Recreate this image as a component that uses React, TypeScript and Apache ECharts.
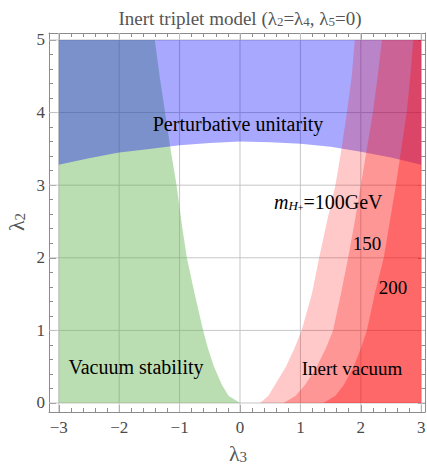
import React, { useEffect, useRef } from "react";
import * as echarts from "echarts";

// ---- data ranges & ticks ----
const X_RANGE = [-3, 3];
const Y_RANGE = [0, 5];
const xTickValues = [-3, -2, -1, 0, 1, 2, 3];
const yTickValues = [0, 1, 2, 3, 4, 5];

// ---- region boundaries ----
// Vacuum stability (green): region left of this curve
const stabilityY = [0, 0.1, 0.25, 0.5, 0.75, 1, 1.5, 2, 2.5, 3, 3.5, 4, 4.5, 5];
const stabilityX = [0, -0.19, -0.3, -0.43, -0.53, -0.61, -0.75, -0.88, -0.97, -1.05, -1.15, -1.24, -1.33, -1.41];

// Perturbative unitarity (blue): region above this curve
const unitarityX = [-3, -2.5, -2, -1.5, -1, -0.5, 0, 0.5, 1, 1.5, 2, 2.5, 3];
const unitarityY = [3.28, 3.37, 3.45, 3.5, 3.55, 3.58, 3.6, 3.59, 3.57, 3.53, 3.46, 3.38, 3.28];

// Inert vacuum (red): region right of each curve, for m_H+ = 100, 150, 200 GeV
const inertY = [0, 0.1, 0.25, 0.5, 0.75, 1, 1.5, 2, 2.5, 3, 3.5, 4, 4.5, 5];
const inert100X = [0.33, 0.47, 0.58, 0.76, 0.9, 1.02, 1.19, 1.31, 1.44, 1.58, 1.68, 1.77, 1.85, 1.9];
const inert150X = [0.72, 0.92, 1.08, 1.27, 1.42, 1.54, 1.67, 1.79, 1.9, 2.0, 2.1, 2.2, 2.28, 2.35];
const inert200X = [1.38, 1.58, 1.72, 1.88, 2.0, 2.1, 2.23, 2.38, 2.48, 2.58, 2.67, 2.76, 2.82, 2.87];

// axis extents (frame padding around the data range)
const AX_X_MIN = -3.162;
const AX_X_MAX = 3.063;
const AX_Y_MIN = -0.124;
const AX_Y_MAX = 5.096;

const SERIF = "Liberation Serif";
const FRAME = "#8c8c8c";
const LABEL = "#4a4a4a";

function minorTicks(major: number[]): number[] {
  const out: number[] = [];
  for (let i = 0; i < major.length - 1; i++) {
    const a = major[i];
    const b = major[i + 1];
    for (let k = 1; k < 5; k++) out.push(Math.round((a + ((b - a) * k) / 5) * 1e6) / 1e6);
  }
  return out;
}

const fmt = (v: number) => (v < 0 ? "\u2212" + Math.abs(v) : String(v));

function regionSeries(name: string, pts: number[][], fill: string, z: number) {
  return {
    type: "custom",
    name,
    xAxisIndex: 0,
    yAxisIndex: 0,
    z,
    silent: true,
    data: pts,
    encode: { x: 0, y: 1 },
    renderItem: (params: any, api: any) => {
      if (params.dataIndex !== 0) return null;
      const points = pts.map((p) => api.coord(p));
      return { type: "polygon", shape: { points }, style: { fill, stroke: "none" } };
    },
  };
}

export default function App() {
  const ref = useRef<HTMLDivElement>(null);

  useEffect(() => {
    document.body.style.margin = "0";
    if (!ref.current) return;
    const chart = echarts.init(ref.current, null, { renderer: "svg" });

    const xMinor = minorTicks(xTickValues);
    const yMinor = minorTicks(yTickValues);

    const green: number[][] = [[X_RANGE[0], Y_RANGE[0]]];
    stabilityX.forEach((x, i) => green.push([x, stabilityY[i]]));
    green.push([X_RANGE[0], Y_RANGE[1]]);

    const blue: number[][] = [[X_RANGE[0], Y_RANGE[1]], [X_RANGE[1], Y_RANGE[1]]];
    for (let i = unitarityX.length - 1; i >= 0; i--) blue.push([unitarityX[i], unitarityY[i]]);

    const redPoly = (xs: number[]) => {
      const p: number[][] = [];
      xs.forEach((x, i) => p.push([x, inertY[i]]));
      p.push([X_RANGE[1], Y_RANGE[1]]);
      p.push([X_RANGE[1], Y_RANGE[0]]);
      return p;
    };

    const baseX = { type: "value", min: AX_X_MIN, max: AX_X_MAX, splitLine: { show: false } };
    const baseY = { type: "value", min: AX_Y_MIN, max: AX_Y_MAX, splitLine: { show: false } };
    const line = (show: boolean) => ({ show, onZero: false, lineStyle: { color: FRAME, width: 1 } });
    const tick = (vals: number[], length: number) => ({
      show: true,
      inside: true,
      length,
      customValues: vals,
      lineStyle: { color: FRAME, width: 1 },
    });
    const noLabel = { show: false };

    const gridLineSeries = (vals: number[], vertical: boolean) => ({
      type: "custom",
      xAxisIndex: 0,
      yAxisIndex: 0,
      z: 1,
      silent: true,
      data: vals.map((v) => (vertical ? [v, 0] : [0, v])),
      encode: { x: 0, y: 1 },
      renderItem: (params: any, api: any) => {
        const cs = params.coordSys;
        const p = api.coord([api.value(0), api.value(1)]);
        const shape = vertical
          ? { x1: p[0], y1: cs.y, x2: p[0], y2: cs.y + cs.height }
          : { x1: cs.x, y1: p[1], x2: cs.x + cs.width, y2: p[1] };
        return { type: "line", shape, style: { stroke: "#c6c6c6", lineWidth: 1 } };
      },
    });

    const textStyle = (size: number) => ({ fontFamily: SERIF, fontSize: size, fill: "#000" });

    chart.setOption({
      animation: false,
      textStyle: { fontFamily: SERIF },
      grid: { left: 49, right: 2, top: 33, bottom: 55, containLabel: false },
      xAxis: [
        { ...baseX, position: "bottom", axisLine: line(true), axisTick: tick(xTickValues, 7), axisLabel: noLabel },
        { ...baseX, position: "bottom", axisLine: line(false), axisTick: tick(xMinor, 4), axisLabel: noLabel },
        { ...baseX, position: "top", axisLine: line(true), axisTick: tick(xTickValues, 7), axisLabel: noLabel },
        { ...baseX, position: "top", axisLine: line(false), axisTick: tick(xMinor, 4), axisLabel: noLabel },
      ],
      yAxis: [
        { ...baseY, position: "left", axisLine: line(true), axisTick: tick(yTickValues, 7), axisLabel: noLabel },
        { ...baseY, position: "left", axisLine: line(false), axisTick: tick(yMinor, 4), axisLabel: noLabel },
        { ...baseY, position: "right", axisLine: line(true), axisTick: tick(yTickValues, 7), axisLabel: noLabel },
        { ...baseY, position: "right", axisLine: line(false), axisTick: tick(yMinor, 4), axisLabel: noLabel },
      ],
      series: [
        gridLineSeries(xTickValues, true),
        gridLineSeries(yTickValues, false),
        regionSeries("Vacuum stability", green, "rgba(105,180,85,0.45)", 2),
        regionSeries("Perturbative unitarity", blue, "rgba(0,0,255,0.34)", 3),
        regionSeries("Inert vacuum 100", redPoly(inert100X), "rgba(255,0,0,0.21)", 4),
        regionSeries("Inert vacuum 150", redPoly(inert150X), "rgba(255,0,0,0.25)", 5),
        regionSeries("Inert vacuum 200", redPoly(inert200X), "rgba(255,0,0,0.3)", 6),
      ],
      graphic: [
        {
          type: "text",
          z: 100,
          x: 240,
          y: 17,
          style: {
            text: "{a|Inert triplet model (λ}{s|2}{a|=λ}{s|4}{a|, λ}{s|5}{a|=0)}",
            align: "center",
            verticalAlign: "middle",
            rich: {
              a: { fontFamily: SERIF, fontSize: 19, lineHeight: 22, verticalAlign: "bottom", fill: "#555" },
              s: { fontFamily: SERIF, fontSize: 13, lineHeight: 10, verticalAlign: "bottom", fill: "#555" },
            },
          },
        },
        {
          type: "text",
          z: 100,
          x: 238,
          y: 453,
          style: {
            text: "{a|λ}{s|3}",
            align: "center",
            verticalAlign: "middle",
            rich: {
              a: { fontFamily: SERIF, fontSize: 22, lineHeight: 22, verticalAlign: "bottom", fill: "#555" },
              s: { fontFamily: SERIF, fontSize: 15, lineHeight: 10, verticalAlign: "bottom", fill: "#555" },
            },
          },
        },
        {
          type: "text",
          z: 100,
          x: 16,
          y: 222,
          rotation: Math.PI / 2,
          style: {
            text: "{a|λ}{s|2}",
            align: "center",
            verticalAlign: "middle",
            rich: {
              a: { fontFamily: SERIF, fontSize: 22, lineHeight: 22, verticalAlign: "bottom", fill: "#555" },
              s: { fontFamily: SERIF, fontSize: 15, lineHeight: 10, verticalAlign: "bottom", fill: "#555" },
            },
          },
        },
        {
          type: "text",
          z: 100,
          x: 238,
          y: 124,
          style: { ...textStyle(20), text: "Perturbative unitarity", align: "center", verticalAlign: "middle" },
        },
        {
          type: "text",
          z: 100,
          x: 136,
          y: 367,
          style: { ...textStyle(20), text: "Vacuum stability", align: "center", verticalAlign: "middle" },
        },
        {
          type: "text",
          z: 100,
          x: 352,
          y: 368,
          style: { ...textStyle(19), text: "Inert vacuum", align: "center", verticalAlign: "middle" },
        },
        {
          type: "text",
          z: 100,
          x: 274,
          y: 201,
          style: {
            text: "{m|m}{h|H}{p|+}{a|=100GeV}",
            align: "left",
            verticalAlign: "middle",
            rich: {
              m: { fontFamily: SERIF, fontStyle: "italic", fontSize: 20, lineHeight: 22, verticalAlign: "bottom", fill: "#000" },
              h: { fontFamily: SERIF, fontStyle: "italic", fontSize: 13, lineHeight: 8, verticalAlign: "bottom", fill: "#000" },
              p: { fontFamily: SERIF, fontSize: 10, lineHeight: 18, verticalAlign: "bottom", fill: "#000" },
              a: { fontFamily: SERIF, fontSize: 20, lineHeight: 22, verticalAlign: "bottom", fill: "#000" },
            },
          },
        },
        {
          type: "text",
          z: 100,
          x: 367,
          y: 243,
          style: { ...textStyle(19), text: "150", align: "center", verticalAlign: "middle" },
        },
        {
          type: "text",
          z: 100,
          x: 393,
          y: 287,
          style: { ...textStyle(19), text: "200", align: "center", verticalAlign: "middle" },
        },
      ],
    });

    // tick labels placed through the axes' own scales
    const tickLabels: any[] = [];
    xTickValues.forEach((v, i) => {
      const px = chart.convertToPixel({ xAxisIndex: 0 }, v) as number;
      tickLabels.push({
        type: "text",
        id: "xl" + i,
        z: 100,
        x: px,
        y: 427,
        style: { text: fmt(v), fontFamily: SERIF, fontSize: 17, fill: LABEL, align: "center", verticalAlign: "middle" },
      });
    });
    yTickValues.forEach((v, i) => {
      const py = chart.convertToPixel({ yAxisIndex: 0 }, v) as number;
      tickLabels.push({
        type: "text",
        id: "yl" + i,
        z: 100,
        x: 45,
        y: py,
        style: { text: fmt(v), fontFamily: SERIF, fontSize: 17, fill: LABEL, align: "right", verticalAlign: "middle" },
      });
    });
    chart.setOption({ graphic: tickLabels });

    return () => chart.dispose();
  }, []);

  return <div ref={ref} style={{ width: 427, height: 467 }} />;
}
